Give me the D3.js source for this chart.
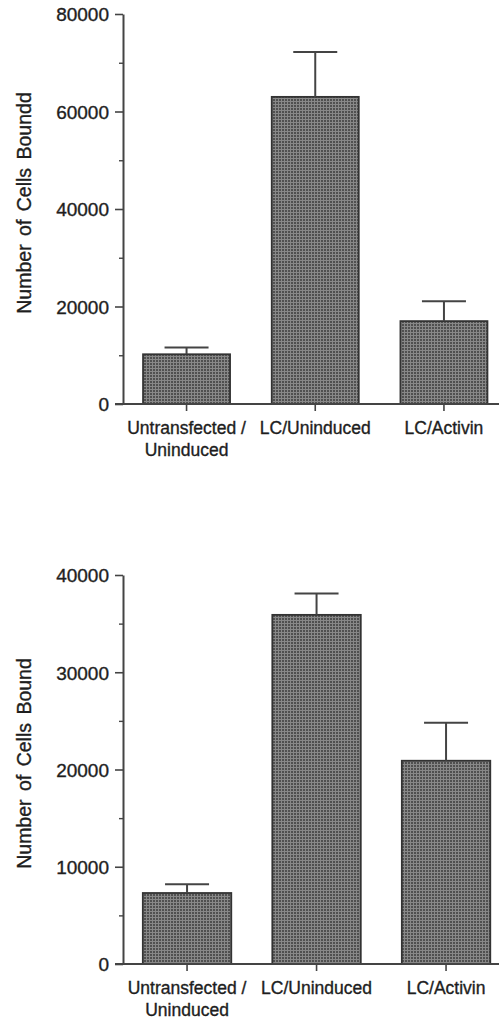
<!DOCTYPE html>
<html>
<head>
<meta charset="utf-8">
<script src="https://cdn.jsdelivr.net/npm/d3@7"></script>
<style>
	body { margin: 0; background: #fff; }
	svg text { font-family: "Liberation Sans", Arial, sans-serif; fill: #1e1e1e; stroke: #1e1e1e; stroke-width: 0.35px; }
</style>
</head>
<body>
<div class="figure"></div>
<script>
// data
var categories = ['Untransfected / Uninduced', 'LC/Uninduced', 'LC/Activin'];
var labelLines = [['Untransfected /', 'Uninduced'], ['LC/Uninduced'], ['LC/Activin']];

var topMeans = [10200, 63000, 17000],
    topErrors = [11600, 72200, 21100],
    topTicks = [0, 20000, 40000, 60000, 80000],
    topMinor = [10000, 30000, 50000, 70000];

var bottomMeans = [7300, 35900, 20900],
    bottomErrors = [8200, 38100, 24800],
    bottomTicks = [0, 10000, 20000, 30000, 40000],
    bottomMinor = [5000, 15000, 25000, 35000];

var width = 499, height = 1019;

var svg = d3.select('.figure').append('svg')
	.attr('width', width)
	.attr('height', height);

// stippled grey fill like the printed bars
var pat = svg.append('defs').append('pattern')
	.attr('id', 'stipple')
	.attr('patternUnits', 'userSpaceOnUse')
	.attr('width', 3)
	.attr('height', 3);
pat.append('rect').attr('width', 3).attr('height', 3).attr('fill', '#888');
pat.append('rect').attr('width', 2).attr('height', 2).attr('fill', '#505050');

var drawPanel = function(opts) {
	var y = d3.scaleLinear().domain([0, opts.max]).range([opts.bottom, opts.top]);
	var x = d3.scaleBand().domain(categories)
		.range([opts.left, opts.right])
		.paddingInner(opts.pad)
		.paddingOuter(opts.pad / 2);

	var g = svg.append('g');
	var axisX = 123;

	// bars
	g.selectAll('.bar').data(opts.means).enter().append('rect')
		.attr('class', 'bar')
		.attr('x', function(d, i) { return x(categories[i]); })
		.attr('y', function(d) { return y(d); })
		.attr('width', x.bandwidth())
		.attr('height', function(d) { return y(0) - y(d); })
		.attr('fill', 'url(#stipple)')
		.attr('stroke', '#333')
		.attr('stroke-width', 1.8);

	// error bars (upper only)
	var cx = function(i) { return x(categories[i]) + x.bandwidth() / 2; };
	var err = g.selectAll('.err').data(opts.errors).enter().append('g').attr('class', 'err');
	err.append('line')
		.attr('x1', function(d, i) { return cx(i); })
		.attr('x2', function(d, i) { return cx(i); })
		.attr('y1', function(d, i) { return y(opts.means[i]); })
		.attr('y2', function(d) { return y(d); })
		.attr('stroke', '#444').attr('stroke-width', 2);
	err.append('line')
		.attr('x1', function(d, i) { return cx(i) - 22; })
		.attr('x2', function(d, i) { return cx(i) + 22; })
		.attr('y1', function(d) { return y(d); })
		.attr('y2', function(d) { return y(d); })
		.attr('stroke', '#444').attr('stroke-width', 2);

	// y axis, major then minor ticks
	var yAxis = g.append('g')
		.attr('transform', 'translate(' + axisX + ',0)')
		.call(d3.axisLeft(y).tickValues(opts.ticks).tickSize(8).tickPadding(6).tickSizeOuter(0).tickFormat(d3.format('d')));
	yAxis.select('.domain').attr('stroke', '#444').attr('stroke-width', 2);
	yAxis.selectAll('.tick line').attr('stroke', '#444').attr('stroke-width', 1.6);
	yAxis.selectAll('text').style('font-size', '19px').attr('dy', '0.36em');

	var minor = g.append('g')
		.attr('transform', 'translate(' + axisX + ',0)')
		.call(d3.axisLeft(y).tickValues(opts.minor).tickSize(4).tickFormat(''));
	minor.select('.domain').remove();
	minor.selectAll('.tick line').attr('stroke', '#444').attr('stroke-width', 1.4);

	// x axis baseline runs to the page edge
	g.append('line')
		.attr('x1', axisX - 8).attr('x2', width)
		.attr('y1', y(0)).attr('y2', y(0))
		.attr('stroke', '#444').attr('stroke-width', 2);

	var xAxis = g.append('g')
		.attr('transform', 'translate(0,' + y(0) + ')')
		.call(d3.axisBottom(x).tickSize(7).tickFormat(''));
	xAxis.select('.domain').remove();
	xAxis.selectAll('.tick line').attr('stroke', '#444').attr('stroke-width', 1.6);

	// category labels, possibly two lines
	var lab = g.selectAll('.cat').data(labelLines).enter().append('text')
		.attr('class', 'cat')
		.attr('text-anchor', 'middle')
		.attr('transform', function(d, i) { return 'translate(' + cx(i) + ',' + (y(0) + 30) + ')'; })
		.style('font-size', '17.5px');
	lab.selectAll('tspan').data(function(d) { return d; }).enter().append('tspan')
		.attr('x', 0)
		.attr('y', function(d, i) { return i * 22; })
		.text(function(d) { return d; });

	// y title
	g.append('text')
		.attr('text-anchor', 'middle')
		.attr('transform', 'translate(31,' + ((opts.top + opts.bottom) / 2 - 6) + ') rotate(-90)')
		.style('font-size', '19.5px')
		.style('word-spacing', '3px')
		.text(opts.title);
};

drawPanel({ means: topMeans, errors: topErrors, ticks: topTicks, minor: topMinor,
	max: 80000, top: 14, bottom: 404, left: 122.2, right: 508.3, pad: 0.324,
	title: 'Number of Cells Boundd' });

drawPanel({ means: bottomMeans, errors: bottomErrors, ticks: bottomTicks, minor: bottomMinor,
	max: 40000, top: 575, bottom: 964, left: 122.3, right: 510.8, pad: 0.317,
	title: 'Number of Cells Bound' });
</script>
</body>
</html>
